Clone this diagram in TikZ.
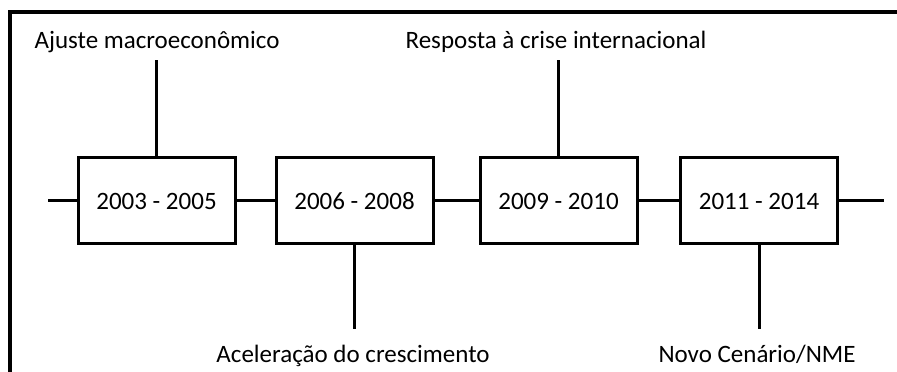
\documentclass[tikz,border=0pt]{standalone}
\usepackage{fontspec}
\setmainfont{Carlito}
\usepackage{tikz}

\tikzset{
  period/.style={draw,line width=3pt,minimum width=157pt,minimum height=86pt,inner sep=0pt,font=\fontsize{25}{28}\selectfont},
  event/.style={inner sep=0pt,text height=17pt,text depth=6pt,font=\fontsize{25}{28}\selectfont},
  tl/.style={line width=3pt}
}

\begin{document}
\begin{tikzpicture}[x=1pt,y=1pt]
          \useasboundingbox (0,0) rectangle (897,372);
          \draw[line width=3.6pt] (10,-20)--(10,360)--(920,360);
          % periods
          \node[period] (p1) at (156.5,171) {2003 - 2005};
          \node[period] (p2) at (354.5,171) {2006 - 2008};
          \node[period] (p3) at (558.5,171) {2009 - 2010};
          \node[period] (p4) at (759,171) {2011 - 2014};
          \coordinate (tstart) at (48,171);
          \coordinate (tend) at (884,171);
          \draw[tl] (tstart)--(p1) (p1)--(p2) (p2)--(p3) (p3)--(p4) (p4)--(tend);
          % events
          \node[event] (ajuste) at (157,329) {Ajuste macroeconômico};
          \node[event] (resposta) at (556,329) {Resposta à crise internacional};
          \node[event] (acel) at (353,15) {Aceleração do crescimento};
          \node[event] (novo) at (757,15) {Novo Cenário/NME};
          \draw[tl] (p1.north)--([yshift=-5.5pt]p1.north |- ajuste.south);
          \draw[tl] (p3.north)--([yshift=-5.5pt]p3.north |- resposta.south);
          \draw[tl] (p2.south)--([yshift=16.5pt]p2.south |- acel.north);
          \draw[tl] (p4.south)--([yshift=16.5pt]p4.south |- novo.north);
        \end{tikzpicture}
\end{document}
